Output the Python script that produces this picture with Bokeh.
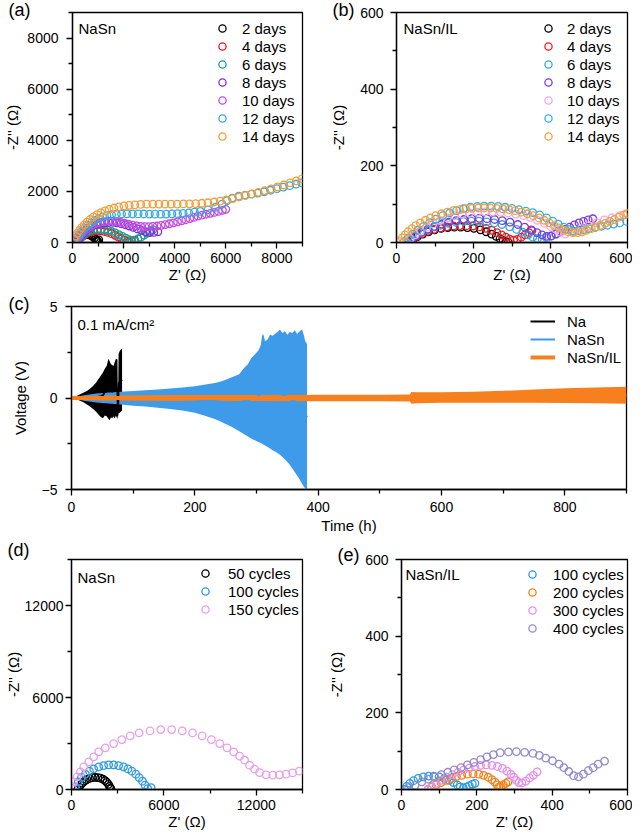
from bokeh.plotting import figure
from bokeh.layouts import row, column
from bokeh.models import Range1d, FixedTicker, Label, Legend, LegendItem
from bokeh.embed import file_html
from bokeh.resources import INLINE

FONT = "Liberation Sans"

# ---------------- (a) NaSn, EIS vs days ----------------
a_labels = ["2 days", "4 days", "6 days", "8 days", "10 days", "12 days", "14 days"]
a_colors = ["#000000", "#e8192c", "#1b9e8e", "#7d2fd6", "#c24be3", "#35a9e0", "#f29d38"]
a2_x = [150, 200, 260, 330, 410, 490, 570, 650, 730, 800, 860, 910, 950, 990, 1030]
a2_y = [20, 90, 160, 220, 270, 300, 310, 300, 270, 225, 170, 110, 60, 50, 100]
a4_x = [200, 280, 370, 470, 580, 700, 830, 970, 1110, 1250, 1390, 1530, 1670, 1800, 1920, 2030, 2130, 2230, 2330, 2420]
a4_y = [30, 130, 220, 300, 365, 415, 445, 455, 450, 430, 395, 345, 280, 210, 140, 80, 40, 25, 40, 60]
a6_x = [200, 280, 370, 470, 580, 700, 830, 970, 1110, 1250, 1390, 1530, 1670, 1810, 1950, 2080, 2200, 2320, 2440, 2560, 2680, 2800, 2920, 3040, 3140]
a6_y = [40, 150, 250, 340, 415, 470, 505, 520, 520, 505, 475, 430, 375, 310, 240, 170, 110, 80, 90, 140, 210, 290, 370, 440, 500]
a8_x = [180, 260, 350, 450, 560, 680, 810, 950, 1100, 1260, 1420, 1580, 1740, 1900, 2060, 2220, 2380, 2540, 2700, 2860, 3020, 3180, 3340]
a8_y = [50, 170, 290, 400, 500, 590, 660, 715, 755, 780, 790, 785, 765, 735, 695, 645, 590, 530, 470, 420, 390, 395, 420]
a10_x = [150, 230, 320, 420, 530, 650, 780, 920, 1070, 1230, 1390, 1550, 1710, 1870, 2030, 2190, 2350, 2510, 2670, 2830,
         2990, 3150, 3310, 3470, 3630, 3790, 3950, 4110, 4270, 4430, 4590, 4750, 4910, 5070, 5230, 5390, 5550, 5710, 5870, 6000]
a10_y = [60, 180, 300, 410, 510, 600, 680, 740, 790, 820, 835, 835, 820, 795, 760, 720, 680, 650, 630, 620,
         620, 628, 645, 668, 700, 733, 770, 810, 850, 890, 935, 980, 1030, 1070, 1105, 1140, 1175, 1215, 1260, 1300]
a12_x = [100, 180, 270, 370, 480, 600, 730, 870, 1020, 1180, 1350, 1530, 1720, 1920, 2130, 2350, 2570, 2790, 3010, 3230,
         3450, 3670, 3890, 4110, 4330, 4550, 4770, 5000, 5300, 5600, 5850, 6050, 6250, 6500, 6750, 7000, 7250, 7500, 7750, 8000,
         8250, 8500, 8750, 8970]
a12_y = [80, 200, 320, 440, 560, 670, 770, 860, 935, 1000, 1050, 1085, 1105, 1115, 1120, 1120, 1118, 1115, 1112, 1110,
         1110, 1112, 1118, 1128, 1142, 1160, 1185, 1215, 1280, 1380, 1500, 1640, 1740, 1810, 1855, 1890, 1935, 1985, 2045, 2105,
         2165, 2225, 2280, 2330]
a14_x = [60, 120, 190, 270, 360, 460, 570, 690, 820, 960, 1110, 1270, 1440, 1620, 1810, 2010, 2220, 2440, 2670, 2900,
         3140, 3380, 3620, 3860, 4100, 4340, 4580, 4820, 5060, 5300, 5540, 5780, 6020, 6270, 6520, 6770, 7020, 7270, 7520, 7770,
         8020, 8270, 8520, 8760, 8980]
a14_y = [140, 250, 360, 470, 580, 690, 800, 900, 1000, 1090, 1170, 1240, 1300, 1350, 1395, 1430, 1455, 1475, 1490, 1500,
         1505, 1505, 1505, 1505, 1505, 1508, 1512, 1520, 1535, 1555, 1585, 1620, 1665, 1720, 1780, 1840, 1900, 1965, 2030, 2100,
         2175, 2250, 2330, 2410, 2490]

# ---------------- (b) NaSn/IL, EIS vs days ----------------
b_labels = ["2 days", "4 days", "6 days", "8 days", "10 days", "12 days", "14 days"]
b_colors = ["#000000", "#ee1c25", "#33a8dd", "#7b3dd8", "#f2a6f0", "#3aaee0", "#f4a040"]
b2_x = [32, 42, 54, 68, 83, 99, 116, 133, 150, 167, 184, 201, 218, 233, 247, 259, 269, 277, 284, 290]
b2_y = [0, 8, 15, 22, 28, 33, 37, 39, 40, 40, 39, 37, 33, 28, 22, 16, 10, 5, 2, 1]
b4_x = [30, 40, 52, 66, 81, 97, 114, 131, 148, 165, 182, 199, 216, 232, 247, 261, 273, 284, 294, 304, 314, 324, 334, 344, 352]
b4_y = [0, 8, 16, 23, 29, 34, 38, 41, 43, 44, 44, 43, 41, 37, 32, 26, 20, 14, 9, 6, 8, 14, 20, 26, 31]
b6_x = [28, 38, 50, 64, 80, 97, 115, 134, 154, 174, 194, 214, 234, 254, 274, 294, 312, 328, 342, 354, 366, 378, 390, 402, 414]
b6_y = [0, 9, 18, 26, 33, 40, 45, 50, 53, 55, 56, 56, 54, 51, 47, 41, 34, 27, 20, 14, 10, 9, 12, 17, 22]
b8_x = [30, 40, 52, 66, 82, 99, 117, 136, 155, 175, 195, 215, 235, 255, 275, 295, 315, 333, 350, 365,
        378, 390, 402, 414, 426, 438, 450, 462, 474, 486, 498, 510]
b8_y = [0, 9, 18, 27, 35, 42, 48, 53, 57, 60, 62, 63, 62, 60, 57, 53, 47, 40, 33, 26,
        20, 16, 17, 22, 28, 34, 40, 46, 51, 55, 59, 62]
b10_x = [25, 35, 48, 62, 78, 95, 113, 132, 151, 170, 190, 210, 230, 250, 270, 290, 310, 330, 348, 366,
         384, 400, 414, 426, 438, 460, 480, 500, 520, 540, 560, 580, 598]
b10_y = [0, 10, 20, 30, 40, 49, 57, 64, 70, 74, 77, 79, 80, 80, 79, 77, 74, 70, 65, 58,
         50, 42, 34, 27, 22, 28, 36, 44, 52, 59, 65, 70, 75]
b12_x = [20, 30, 42, 55, 70, 86, 102, 120, 138, 156, 174, 192, 210, 228, 246, 264, 282, 300, 318, 336,
         354, 372, 390, 406, 420, 434, 446, 458, 472, 486, 500, 516, 532, 548, 564, 580, 598]
b12_y = [2, 12, 22, 32, 42, 52, 61, 70, 77, 83, 88, 92, 94, 95, 95, 94, 92, 89, 86, 82,
         78, 72, 64, 56, 48, 40, 34, 30, 31, 33, 36, 39, 42, 45, 48, 51, 55]
b14_x = [8, 15, 22, 30, 40, 50, 62, 75, 88, 102, 117, 132, 148, 164, 180, 196, 212, 228, 244, 260,
         276, 292, 308, 324, 340, 355, 370, 384, 397, 410, 422, 434, 446, 458, 470, 482, 494, 506, 518, 530,
         542, 554, 566, 578, 590, 600]
b14_y = [3, 12, 20, 28, 36, 44, 51, 58, 64, 70, 75, 79, 83, 86, 88, 89, 90, 90, 90, 89,
         88, 86, 83, 79, 75, 70, 64, 58, 51, 44, 38, 32, 28, 26, 26, 28, 32, 36, 41, 45,
         50, 55, 60, 66, 72, 76]

# ---------------- (c) voltage profiles (envelopes) ----------------
c_labels = ["Na", "NaSn", "NaSn/IL"]
c_colors = ["#000000", "#3d9be9", "#f7801e"]
na_t = [0, 5, 10, 15, 20, 25, 30, 35, 40, 44, 48, 51, 54, 57, 60, 62, 64, 66, 68, 70, 72, 74.5, 75, 75.8, 76.3, 78, 80, 82]
na_up = [0, 0.06, 0.14, 0.22, 0.3, 0.38, 0.5, 0.65, 0.85, 1.05, 1.25, 1.4, 1.6, 1.75, 2.15, 2.0, 1.85, 1.8, 1.75, 1.95, 2.15, 2.1, 0.3, 0.3, 2.4, 2.55, 2.65, 2.7]
na_lo = [0, -0.04, -0.1, -0.17, -0.25, -0.35, -0.47, -0.6, -0.75, -0.92, -1.05, -1.1, -0.95, -1.0, -1.15, -1.2, -1.05, -1.1, -1.0, -1.12, -0.95, -1.15, -1.0, -1.0, -0.85, -0.8, -0.75, -0.7]
nasn_t = [0, 20, 40, 60, 80, 100, 120, 140, 160, 180, 200, 215, 230, 240, 250, 258, 265, 272, 280, 286, 292, 298, 303, 307,
          309, 311, 314, 318, 322, 326, 330, 334, 338, 342, 346, 350, 354, 358, 362, 366, 370, 374, 377, 379, 381, 382]
nasn_up = [0, 0.15, 0.24, 0.3, 0.34, 0.38, 0.42, 0.47, 0.52, 0.57, 0.64, 0.72, 0.8, 0.88, 1.0, 1.1, 1.2, 1.3, 1.65, 1.85, 2.2, 2.4, 2.6, 2.9,
           3.4, 3.5, 3.1, 3.2, 3.45, 3.4, 3.5, 3.6, 3.75, 3.55, 3.65, 3.45, 3.6, 3.55, 3.7, 3.5, 3.65, 3.75, 3.4, 3.1, 3.0, 2.9]
nasn_lo = [0, -0.15, -0.24, -0.3, -0.36, -0.42, -0.47, -0.53, -0.6, -0.68, -0.8, -0.95, -1.12, -1.25, -1.42, -1.55, -1.68, -1.82, -1.98, -2.1, -2.22, -2.32, -2.4, -2.46,
           -2.5, -2.54, -2.6, -2.68, -2.76, -2.85, -2.93, -3.0, -3.1, -3.22, -3.35, -3.5, -3.65, -3.85, -4.05, -4.25, -4.45, -4.7, -4.85, -4.95, -5.0, -5.0]
il_t = [0, 20, 50, 100, 200, 300, 400, 500, 549, 551, 560, 600, 650, 700, 750, 800, 850, 900]
il_up = [0, 0.1, 0.13, 0.15, 0.16, 0.17, 0.18, 0.18, 0.19, 0.33, 0.31, 0.31, 0.34, 0.39, 0.46, 0.53, 0.58, 0.61]
il_lo = [0, -0.1, -0.13, -0.15, -0.16, -0.17, -0.18, -0.18, -0.19, -0.31, -0.29, -0.26, -0.26, -0.26, -0.26, -0.27, -0.29, -0.31]

# ---------------- (d) NaSn, EIS vs cycles ----------------
d_labels = ["50 cycles", "100 cycles", "150 cycles"]
d_colors = ["#000000", "#2e9ae0", "#e89ee8"]
d50_x = [400, 480, 580, 700, 840, 1000, 1170, 1350, 1530, 1710, 1880, 2040, 2180, 2300, 2400, 2470, 2520, 2560]
d50_y = [0, 150, 290, 420, 540, 640, 720, 770, 790, 780, 740, 670, 580, 470, 340, 200, 80, 60]
d100_x = [258, 431, 646, 904, 1163, 1443, 1766, 2089, 2412, 2735, 3058, 3381, 3661, 3919, 4177, 4393, 4608, 4780, 4953, 5168]
d100_y = [170, 496, 780, 998, 1193, 1345, 1476, 1563, 1606, 1606, 1563, 1476, 1345, 1193, 998, 780, 541, 280, 63, 128]
d150_x = [43, 151, 366, 581, 797, 1120, 1443, 1766, 2196, 2735, 3273, 3811, 4393, 5103, 5793, 6503, 7192, 7860, 8484, 9087,
          9625, 10099, 10530, 10917, 11240, 11563, 11886, 12209, 12640, 13071, 13501, 13932, 14363, 14793]
d150_y = [170, 496, 824, 1150, 1476, 1802, 2128, 2454, 2715, 2997, 3258, 3497, 3692, 3823, 3910, 3910, 3823, 3692, 3497, 3258,
          2997, 2715, 2454, 2171, 1910, 1584, 1324, 1106, 954, 932, 954, 998, 1084, 1193]

# ---------------- (e) NaSn/IL, EIS vs cycles ----------------
e_labels = ["100 cycles", "200 cycles", "300 cycles", "400 cycles"]
e_colors = ["#2e9ae0", "#f57f17", "#e48fe8", "#9089d0"]
e100_x = [8, 14, 22, 32, 44, 58, 72, 86, 100, 114, 127, 138, 148, 156, 164, 172, 180, 188, 195]
e100_y = [0, 8, 16, 23, 29, 33, 35, 35, 33, 29, 24, 18, 12, 7, 4, 6, 10, 14, 16]
e200_x = [70, 80, 92, 105, 118, 132, 146, 160, 175, 190, 205, 218, 230, 240, 248, 254, 258, 263, 270, 277, 283]
e200_y = [0, 6, 12, 18, 24, 29, 34, 37, 40, 41, 40, 37, 32, 26, 19, 12, 6, 8, 12, 16, 20]
e300_x = [70, 80, 92, 105, 120, 135, 150, 165, 180, 195, 210, 225, 240, 255, 268, 280, 290, 298, 305, 312, 320, 330, 340, 350, 360]
e300_y = [0, 8, 16, 24, 32, 39, 45, 51, 56, 60, 63, 64, 63, 60, 55, 48, 40, 32, 24, 18, 17, 22, 30, 37, 46]
e400_x = [19, 36, 54, 71, 88, 106, 123, 140, 158, 175, 192, 210, 227, 244, 262, 284, 305, 327, 349, 366,
          383, 401, 418, 431, 444, 457, 470, 483, 496, 509, 522, 539]
e400_y = [5, 11, 20, 27, 33, 39, 45, 51, 57, 64, 71, 78, 85, 91, 96, 98, 99, 97, 94, 89,
          82, 75, 66, 57, 47, 36, 33, 40, 49, 57, 66, 74]

# tick definitions
a_ticks, a_minor = [0, 2000, 4000, 6000, 8000], [1000, 3000, 5000, 7000, 9000]
b_ticks, b_minor = [0, 200, 400, 600], [100, 300, 500]
c_xticks, c_xminor = [0, 200, 400, 600, 800], [100, 300, 500, 700, 900]
c_yticks, c_yminor = [-5, 0, 5], [-2.5, 2.5]
d_ticks, d_minor = [0, 6000, 12000], [3000, 9000, 15000]


def make_fig(w, h, bl, br, bt, bb, xr, yr):
    p = figure(width=w, height=h, x_range=Range1d(*xr), y_range=Range1d(*yr),
               output_backend="svg", toolbar_location=None,
               min_border_left=bl, min_border_right=br, min_border_top=bt, min_border_bottom=bb)
    p.xgrid.visible = False
    p.ygrid.visible = False
    p.outline_line_color = "black"
    p.outline_line_width = 1.3
    p.outline_line_alpha = 1.0
    p.background_fill_color = "white"
    p.border_fill_color = "white"
    return p


def panel_letter(p, text, offset, standoff):
    # panel letter drawn as the figure title, pulled down beside the frame's top-left corner
    p.title.text = text
    p.title.align = "left"
    p.title.offset = offset
    p.title.standoff = standoff
    p.title.text_font = FONT
    p.title.text_font_size = "18px"
    p.title.text_font_style = "normal"
    p.title.text_color = "black"


def style_axes(p, xt, xm, yt, ym, xlabel, ylabel, xstand, xlstand, ystand, ylstand):
    p.xaxis.ticker = FixedTicker(ticks=xt, minor_ticks=xm)
    p.yaxis.ticker = FixedTicker(ticks=yt, minor_ticks=ym)
    p.xaxis.axis_label = xlabel
    p.yaxis.axis_label = ylabel
    for ax in list(p.xaxis) + list(p.yaxis):
        ax.axis_line_color = "black"
        ax.axis_line_width = 1.3
        ax.major_tick_line_color = "black"
        ax.major_tick_line_width = 1.3
        ax.minor_tick_line_color = "black"
        ax.minor_tick_line_width = 1.3
        ax.major_tick_in = 0
        ax.major_tick_out = 6
        ax.minor_tick_in = 0
        ax.minor_tick_out = 4
        ax.major_label_text_font = FONT
        ax.major_label_text_font_size = "14px"
        ax.major_label_text_color = "black"
        ax.axis_label_text_font = FONT
        ax.axis_label_text_font_size = "15px"
        ax.axis_label_text_font_style = "normal"
        ax.axis_label_text_color = "black"
    p.xaxis.major_label_standoff = xstand
    p.xaxis.axis_label_standoff = xlstand
    p.yaxis.major_label_standoff = ystand
    p.yaxis.axis_label_standoff = ylstand


def put_label(p, geo, px, py, text, size):
    L, W, T, H, x0, x1, y0, y1 = geo
    dx = x0 + (px - L) / W * (x1 - x0)
    dy = y1 - (py - T) / H * (y1 - y0)
    p.add_layout(Label(x=dx, y=dy, text=text, text_font=FONT, text_font_size=size,
                       text_baseline="middle", text_align="left", text_color="black"))


def add_legend(p, items, loc, standoff, gw=20, gh=18, lh=18, sp=0):
    lg = Legend(items=[LegendItem(label=l, renderers=[r]) for l, r in items],
                location=loc, glyph_width=gw, glyph_height=gh, label_height=lh,
                spacing=sp, padding=0, margin=0, label_standoff=standoff,
                border_line_color=None, background_fill_alpha=0,
                label_text_font=FONT, label_text_font_size="15px", label_text_color="black")
    p.add_layout(lg)


def circles(p, xs, ys, color):
    return p.scatter(xs, ys, marker="circle", size=7.5, line_color=color, fill_color=None, line_width=1.3)


# ---------- panel a ----------
pa = make_fig(325, 286, 72, 23, 12, 44, (0, 9000), (0, 9000))
style_axes(pa, a_ticks, a_minor, a_ticks, a_minor, "Z' (Ω)", "-Z'' (Ω)", 4, 0, 8, 3)
ra = [circles(pa, x, y, c) for x, y, c in zip([a2_x, a4_x, a6_x, a8_x, a10_x, a12_x, a14_x],
                                               [a2_y, a4_y, a6_y, a8_y, a10_y, a12_y, a14_y], a_colors)]
add_legend(pa, list(zip(a_labels, ra)), (140, 97), 10)
geo_a = (72, 230, 12, 230, 0, 9000, 0, 9000)
panel_letter(pa, "(a)", -64, -14)
put_label(pa, geo_a, 78, 28, "NaSn", "15px")

# ---------- panel b ----------
pb = make_fig(307, 286, 71, 5, 12, 44, (0, 600), (0, 600))
style_axes(pb, b_ticks, b_minor, b_ticks, b_minor, "Z' (Ω)", "-Z'' (Ω)", 4, 0, 7, 10)
rb = [circles(pb, x, y, c) for x, y, c in zip([b2_x, b4_x, b6_x, b8_x, b10_x, b12_x, b14_x],
                                               [b2_y, b4_y, b6_y, b8_y, b10_y, b12_y, b14_y], b_colors)]
add_legend(pb, list(zip(b_labels, rb)), (142, 97), 9)
geo_b = (396, 231, 12, 230, 0, 600, 0, 600)
panel_letter(pb, "(b)", -64, -14)
put_label(pb, geo_b, 403, 28, "NaSn/IL", "15px")

# ---------- panel c ----------
pc = make_fig(632, 250, 71, 6, 20, 46, (0, 900), (-5, 5))
style_axes(pc, c_xticks, c_xminor, c_yticks, c_yminor, "Time (h)", "Voltage (V)", 6, 2, 8, 10)
pc.varea(x=na_t, y1=na_lo, y2=na_up, fill_color=c_colors[0])
pc.varea(x=nasn_t, y1=nasn_lo, y2=nasn_up, fill_color=c_colors[1])
pc.varea(x=il_t, y1=il_lo, y2=il_up, fill_color=c_colors[2])
na_mid = [(u + l) / 2 for u, l in zip(na_up, na_lo)]
nasn_mid = [(u + l) / 2 for u, l in zip(nasn_up, nasn_lo)]
il_mid = [(u + l) / 2 for u, l in zip(il_up, il_lo)]
leg_na = pc.line(na_t, na_mid, line_color=c_colors[0], line_width=2)
leg_nasn = pc.line(nasn_t, nasn_mid, line_color=c_colors[1], line_width=2)
leg_il = pc.line(il_t, il_mid, line_color=c_colors[2], line_width=4)
add_legend(pc, list(zip(c_labels, [leg_na, leg_nasn, leg_il])), (459, 123), 12, gw=25, gh=18, lh=18, sp=0)
geo_c = (71, 555, 306, 184, 0, 900, -5, 5)
panel_letter(pc, "(c)", -63, -14)
put_label(pc, geo_c, 77, 324, "0.1 mA/cm²", "15px")

# ---------- panel d ----------
pd_ = make_fig(325, 297, 71, 23, 23, 44, (0, 15000), (0, 15000))
style_axes(pd_, d_ticks, d_minor, d_ticks, d_minor, "Z' (Ω)", "-Z'' (Ω)", 4, 0, 2, 0)
rd = [circles(pd_, x, y, c) for x, y, c in zip([d50_x, d100_x, d150_x], [d50_y, d100_y, d150_y], d_colors)]
add_legend(pd_, list(zip(d_labels, rd)), (124, 171), 13)
geo_d = (71, 231, 559, 230, 0, 15000, 0, 15000)
panel_letter(pd_, "(d)", -64, -1)
put_label(pd_, geo_d, 77, 577, "NaSn", "15px")

# ---------- panel e ----------
pe = make_fig(307, 297, 71, 5, 23, 44, (0, 600), (0, 600))
style_axes(pe, b_ticks, b_minor, b_ticks, b_minor, "Z' (Ω)", "-Z'' (Ω)", 4, 0, 7, 17)
re_ = [circles(pe, x, y, c) for x, y, c in zip([e100_x, e200_x, e300_x, e400_x], [e100_y, e200_y, e300_y, e400_y], e_colors)]
add_legend(pe, list(zip(e_labels, re_)), (121, 152), 11)
geo_e = (396, 231, 559, 230, 0, 600, 0, 600)
panel_letter(pe, "(e)", -64, -11)
put_label(pe, geo_e, 400, 574, "NaSn/IL", "15px")

layout = column(row(pa, pb), pc, row(pd_, pe))
open("out.html", "w").write(file_html(layout, INLINE))
